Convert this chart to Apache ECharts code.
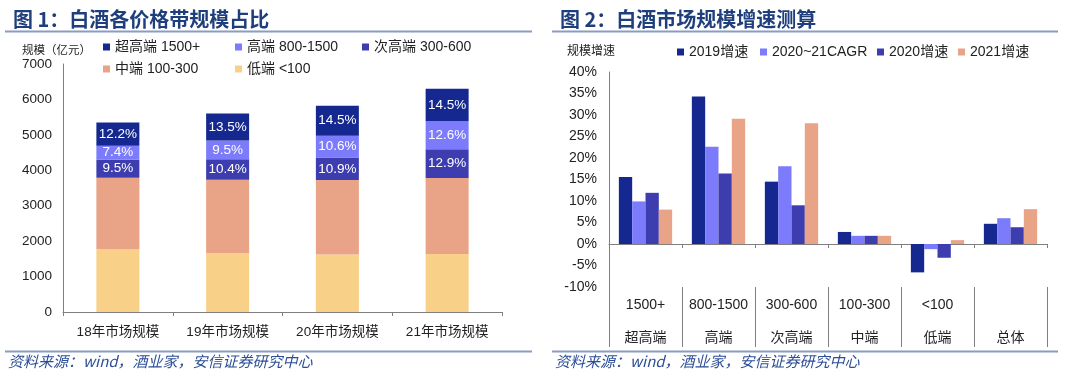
<!DOCTYPE html>
<html>
<head>
<meta charset="utf-8">
<script src="https://cdn.jsdelivr.net/npm/echarts@6/dist/echarts.min.js"></script>
<style>
html, body { margin: 0; padding: 0; background: #fff; }
#wrap { position: relative; width: 1080px; height: 377px; }
#left { position: absolute; left: 0; top: 0; width: 540px; height: 377px; }
#right { position: absolute; left: 540px; top: 0; width: 540px; height: 377px; }
</style>
</head>
<body>
<div id="wrap">
  <div id="left"></div>
  <div id="right"></div>
</div>
<script>
const FONT = "'Liberation Sans', 'Noto Sans CJK SC', sans-serif";
const CJK = "'Noto Sans CJK SC', sans-serif";
const TITLE_BLUE = '#1f3f7c';
const LINE_BLUE = '#8a9cc2';
const AXIS_GREY = '#7f7f7f';

// 图1：白酒各价格带规模（亿元）
const years = ['18年市场规模', '19年市场规模', '20年市场规模', '21年市场规模'];
const lowEnd = [1780, 1660, 1620, 1640];
const midEnd = [2010, 2070, 2105, 2140];
const subHigh = [510, 582, 634, 813];
const high = [396, 532, 617, 794];
const superHigh = [653, 756, 844, 914];
const subHighShare = ['9.5%', '10.4%', '10.9%', '12.9%'];
const highShare = ['7.4%', '9.5%', '10.6%', '12.6%'];
const superHighShare = ['12.2%', '13.5%', '14.5%', '14.5%'];

// 图2：白酒市场规模增速（%）
const rangeLabels = ['1500+', '800-1500', '300-600', '100-300', '<100', ''];
const tierLabels = ['超高端', '高端', '次高端', '中端', '低端', '总体'];
const growth2019 = [15.6, 34.3, 14.5, 2.8, -6.6, 4.7];
const cagr2021 = [9.9, 22.6, 18.1, 1.9, -1.2, 6.0];
const growth2020 = [11.9, 16.4, 9.0, 1.9, -3.2, 3.9];
const growth2021 = [8.0, 29.1, 28.1, 1.9, 0.9, 8.1];

const COLORS = {
  superHigh: '#14288f',
  high: '#7b7bfb',
  subHigh: '#3d3db0',
  mid: '#e9a386',
  low: '#f9d087'
};

// 标题、分隔线、资料来源
function frame(title, titleLeft, lineX1, lineX2, footLeft) {
  return {
    title: {
      text: title,
      left: titleLeft,
      top: 4,
      textStyle: { fontFamily: CJK, fontSize: 20, fontWeight: 'bold', color: TITLE_BLUE }
    },
    graphic: [
      { type: 'line', shape: { x1: lineX1, y1: 31.5, x2: lineX2, y2: 31.5 }, style: { stroke: LINE_BLUE, lineWidth: 2 } },
      { type: 'line', shape: { x1: lineX1, y1: 351.5, x2: lineX2, y2: 351.5 }, style: { stroke: LINE_BLUE, lineWidth: 2 } },
      {
        type: 'text', left: footLeft, top: 354,
        style: { text: '资料来源：wind，酒业家，安信证券研究中心', font: 'italic 15px ' + CJK, fill: '#2c4e96' }
      }
    ]
  };
}

function legendAt(name, left, top) {
  return {
    data: [name], left: left, top: top, padding: 0,
    icon: 'rect', itemWidth: 7, itemHeight: 7, itemGap: 0,
    textStyle: { fontFamily: FONT, fontSize: 14, color: '#222' }
  };
}

// 左图
const leftChart = echarts.init(document.getElementById('left'));
const leftFrame = frame('图 1：白酒各价格带规模占比', 8, 5, 532, 8);
leftFrame.graphic.push({
  type: 'text', left: 22, top: 44,
  style: { text: '规模（亿元）', font: '11.5px ' + CJK, fill: '#222' }
});

function shareLabel(shares) {
  return {
    show: true, position: 'inside', color: '#fff', fontFamily: FONT, fontSize: 13.5,
    formatter: p => shares[p.dataIndex]
  };
}

leftChart.setOption({
  animation: false,
  title: leftFrame.title,
  graphic: leftFrame.graphic,
  legend: [
    legendAt('超高端 1500+', 103, 40),
    legendAt('高端 800-1500', 235, 40),
    legendAt('次高端 300-600', 362, 40),
    legendAt('中端 100-300', 103, 62),
    legendAt('低端 <100', 235, 62)
  ],
  grid: { left: 63, right: 38, top: 64, bottom: 65 },
  xAxis: {
    type: 'category',
    data: years,
    axisLine: { lineStyle: { color: AXIS_GREY } },
    axisTick: { show: true, length: 4, lineStyle: { color: AXIS_GREY } },
    axisLabel: { margin: 14, fontFamily: FONT, fontSize: 13.5, color: '#222' }
  },
  yAxis: {
    type: 'value', min: 0, max: 7000, interval: 1000,
    axisLine: { show: true, lineStyle: { color: AXIS_GREY } },
    axisTick: { show: false },
    splitLine: { show: false },
    axisLabel: { margin: 11, fontFamily: FONT, fontSize: 13.5, color: '#222', formatter: v => String(v) }
  },
  series: [
    { name: '低端 <100', type: 'bar', stack: 'size', barWidth: 43, data: lowEnd, itemStyle: { color: COLORS.low } },
    { name: '中端 100-300', type: 'bar', stack: 'size', data: midEnd, itemStyle: { color: COLORS.mid } },
    { name: '次高端 300-600', type: 'bar', stack: 'size', data: subHigh, itemStyle: { color: COLORS.subHigh }, label: shareLabel(subHighShare) },
    { name: '高端 800-1500', type: 'bar', stack: 'size', data: high, itemStyle: { color: COLORS.high }, label: shareLabel(highShare) },
    { name: '超高端 1500+', type: 'bar', stack: 'size', data: superHigh, itemStyle: { color: COLORS.superHigh }, label: shareLabel(superHighShare) }
  ]
});

// 右图
const rightChart = echarts.init(document.getElementById('right'));
const rightFrame = frame('图 2：白酒市场规模增速测算', 15, 12, 518, 15);
rightFrame.graphic.push({
  type: 'text', left: 27, top: 44,
  style: { text: '规模增速', font: '12px ' + CJK, fill: '#222' }
});

rightChart.setOption({
  animation: false,
  title: rightFrame.title,
  graphic: rightFrame.graphic,
  legend: [
    legendAt('2019增速', 137, 45),
    legendAt('2020~21CAGR', 220, 45),
    legendAt('2020增速', 337, 45),
    legendAt('2021增速', 418, 45)
  ],
  grid: { left: 69, right: 33, top: 72, bottom: 90 },
  xAxis: [
    {
      type: 'category',
      data: tierLabels,
      axisLine: { onZero: true, lineStyle: { color: AXIS_GREY } },
      axisTick: { show: true, interval: 0, length: 4, lineStyle: { color: AXIS_GREY } },
      axisLabel: { show: false, interval: 0 }
    },
    {
      type: 'category',
      data: tierLabels,
      position: 'bottom',
      axisLine: { show: false, onZero: false },
      axisTick: { show: true, interval: 0, length: 60, lineStyle: { color: AXIS_GREY } },
      axisLabel: {
        interval: 0, margin: 2, lineHeight: 33, fontFamily: FONT, fontSize: 14, color: '#222',
        formatter: (v, i) => rangeLabels[i] + '\n' + v
      }
    }
  ],
  yAxis: {
    type: 'value', min: -10, max: 40, interval: 5,
    axisLine: { show: true, lineStyle: { color: AXIS_GREY } },
    axisTick: { show: false },
    splitLine: { show: false },
    axisLabel: { margin: 12, fontFamily: FONT, fontSize: 14, color: '#222', formatter: '{value}%' }
  },
  series: [
    { name: '2019增速', type: 'bar', barGap: 0, barCategoryGap: '27%', data: growth2019, itemStyle: { color: COLORS.superHigh } },
    { name: '2020~21CAGR', type: 'bar', data: cagr2021, itemStyle: { color: COLORS.high } },
    { name: '2020增速', type: 'bar', data: growth2020, itemStyle: { color: COLORS.subHigh } },
    { name: '2021增速', type: 'bar', data: growth2021, itemStyle: { color: COLORS.mid } }
  ]
});
</script>
</body>
</html>
